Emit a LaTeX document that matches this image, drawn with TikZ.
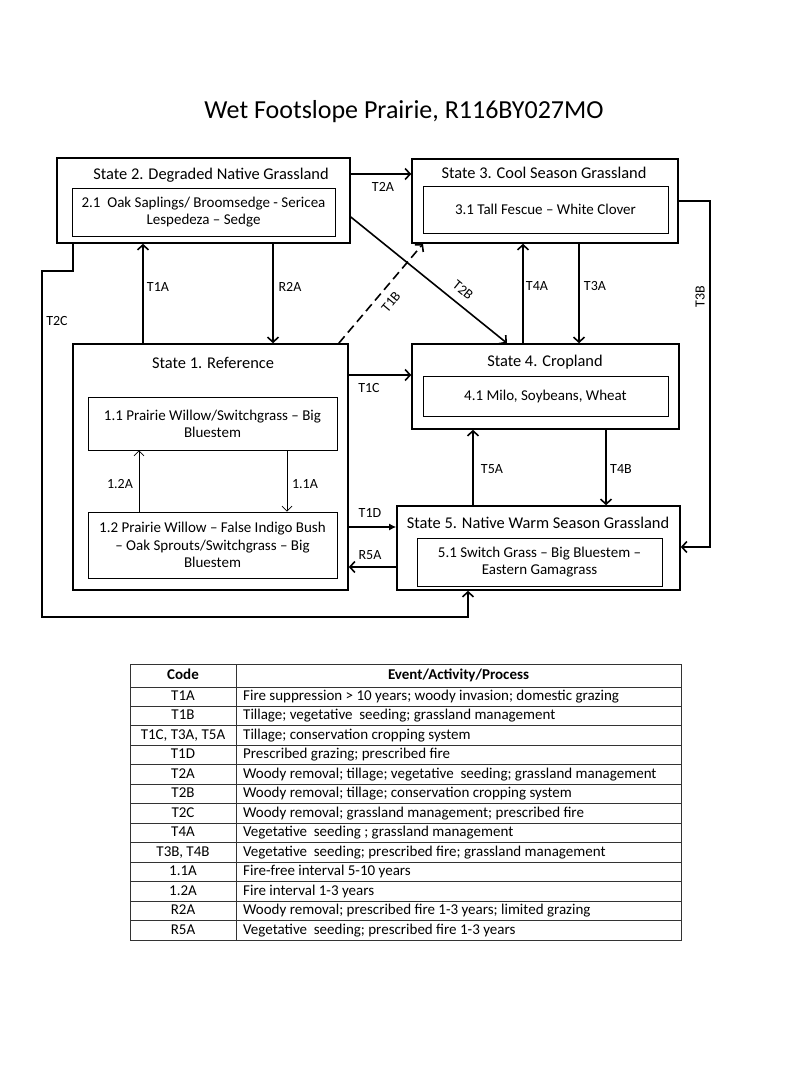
\documentclass[tikz,border=0pt]{standalone}
\usepackage{fontspec}
\setmainfont{Carlito}
\usetikzlibrary{arrows.meta,calc}

\begin{document}
\begin{tikzpicture}[x=1pt,y=-1pt,
  statebox/.style={draw,line width=1.6pt,inner sep=0pt},
  phasebox/.style={draw,line width=0.8pt,inner sep=0pt,align=center,font=\fontsize{15}{17.2}\selectfont},
  heading/.style={font=\fontsize{16.4}{18}\selectfont},
  lbl/.style={font=\fontsize{14}{16}\selectfont},
  arr/.style={line width=1.6pt,-{Straight Barb[length=5pt,width=11pt]}},
  thinarr/.style={line width=0.7pt,-{Straight Barb[length=5pt,width=10pt]}},
  cell/.style={font=\fontsize{15}{16}\selectfont,inner sep=0pt,text height=10.5pt,text depth=3pt}]
\useasboundingbox (0,0) rectangle (800,1067);

\node[font=\fontsize{26}{30}\selectfont] (title) at (404,112) {Wet Footslope Prairie, R116BY027MO};

% states
\node[statebox,minimum width=275pt,minimum height=246pt] (s1) at (210.5,467) {};
\node[statebox,minimum width=293pt,minimum height=85pt] (s2) at (203.5,200.5) {};
\node[statebox,minimum width=266pt,minimum height=84pt] (s3) at (545,201) {};
\node[statebox,minimum width=267pt,minimum height=85pt] (s4) at (545.5,386.5) {};
\node[statebox,minimum width=283pt,minimum height=84pt] (s5) at (538.5,548) {};

\node[heading] (h1) at (213,363) {State 1. Reference};
\node[heading] (h2) at (211,175) {State 2. Degraded Native Grassland};
\node[heading] (h3) at (544,173) {State 3. Cool Season Grassland};
\node[heading] (h4) at (545,362) {State 4. Cropland};
\node[heading] (h5) at (538,523) {State 5. Native Warm Season Grassland};

% community phases
\node[phasebox,minimum width=249pt,minimum height=53pt] (p11) at (212.5,423.5) {1.1 Prairie Willow/Switchgrass – Big\\Bluestem};
\node[phasebox,minimum width=249pt,minimum height=66pt] (p12) at (212.5,545) {1.2 Prairie Willow – False Indigo Bush\\– Oak Sprouts/Switchgrass – Big\\Bluestem};
\node[phasebox,minimum width=263pt,minimum height=48pt] (p21) at (203.5,212) {2.1\ \ Oak Saplings/ Broomsedge - Sericea\\Lespedeza – Sedge};
\node[phasebox,minimum width=245pt,minimum height=47pt] (p31) at (545.5,209.5) {3.1 Tall Fescue – White Clover};
\node[phasebox,minimum width=245pt,minimum height=40pt] (p41) at (545.5,396) {4.1 Milo, Soybeans, Wheat};
\node[phasebox,minimum width=245pt,minimum height=48pt] (p51) at (539.5,562) {5.1 Switch Grass – Big Bluestem –\\Eastern Gamagrass};

% transitions
\draw[arr] (s1.north -| 143,0) -- (s2.south -| 143,0) node[lbl] at (158,287) {T1A};
\draw[arr] (s2.south -| 273,0) -- (s1.north -| 273,0) node[lbl] at (290,287) {R2A};
\draw[arr,dash pattern=on 9pt off 5pt] ($(s1.north east)+(-10,0)$) -- (s3.south -| 423,0)
  node[lbl,rotate=50] at (391,302) {T1B};
\draw[arr] (s2.east |- 0,217) -- (s4.north -| 507,0) node[lbl,rotate=-39] at (463,290) {T2B};
\draw[arr] (s2.east |- 0,174) -- (s3.west |- 0,174) node[lbl] at (383,187) {T2A};
\draw[arr] (s2.south -| 73,0) -- (73,271) -- (42,271) -- (42,617) -- (468,617) -- (s5.south -| 468,0)
  node[lbl] at (57,321) {T2C};
\draw[arr] (s4.north -| 523,0) -- (s3.south -| 523,0) node[lbl] at (537,286) {T4A};
\draw[arr] (s3.south -| 579,0) -- (s4.north -| 579,0) node[lbl] at (595,286) {T3A};
\draw[arr] (s3.east |- 0,201) -- (710,201) -- (710,547) -- (s5.east |- 0,547)
  node[lbl,rotate=90] at (700,297) {T3B};
\draw[arr] (s1.east |- 0,375) -- (s4.west |- 0,375) node[lbl] at (369,388) {T1C};
\draw[line width=1.6pt,-{Latex[length=7pt,width=7pt]}] (s1.east |- 0,527) -- (s5.west |- 0,527) node[lbl] at (370,513) {T1D};
\draw[arr] (s5.west |- 0,567) -- (s1.east |- 0,567) node[lbl] at (370,555) {R5A};
\draw[arr] (s5.north -| 473,0) -- (s4.south -| 473,0) node[lbl] at (492,469) {T5A};
\draw[arr] (s4.south -| 606,0) -- (s5.north -| 606,0) node[lbl] at (621,469) {T4B};
\draw[thinarr] (p12.north -| 139,0) -- (p11.south -| 139,0) node[lbl] at (120,484) {1.2A};
\draw[thinarr] (p11.south -| 287,0) -- (p12.north -| 287,0) node[lbl] at (305,484) {1.1A};

% table
\draw[black!80,line width=0.9pt] (130,664) rectangle (681,940);
\draw[black!80,line width=0.9pt] (236,664) -- (236,940);
\node[cell,font=\fontsize{15}{16}\selectfont\bfseries] (code0) at (183,675.5) {Code};
\node[cell,font=\fontsize{15}{16}\selectfont\bfseries] (what0) at (458.5,675.5) {Event/Activity/Process};
\foreach \code/\what [count=\i] in {T1A/Fire suppression > 10 years; woody invasion; domestic grazing,
    T1B/Tillage; vegetative\ \ seeding; grassland management,
    {T1C, T3A, T5A}/Tillage; conservation cropping system,
    T1D/Prescribed grazing; prescribed fire,
    T2A/Woody removal; tillage; vegetative\ \ seeding; grassland management,
    T2B/Woody removal; tillage; conservation cropping system,
    T2C/Woody removal; grassland management; prescribed fire,
    T4A/Vegetative\ \ seeding ; grassland management,
    {T3B, T4B}/Vegetative\ \ seeding; prescribed fire; grassland management,
    1.1A/Fire-free interval 5-10 years,
    1.2A/Fire interval 1-3 years,
    R2A/Woody removal; prescribed fire 1-3 years; limited grazing,
    R5A/Vegetative\ \ seeding; prescribed fire 1-3 years}{
  \draw[black!80,line width=0.9pt] (130,{687+(\i-1)*19.46}) -- (681,{687+(\i-1)*19.46});
  \node[cell] (code\i) at (183,{687+(\i-0.5)*19.46}) {\code};
  \node[cell,anchor=west] (what\i) at (243,{687+(\i-0.5)*19.46}) {\what};
}
\end{tikzpicture}
\end{document}
